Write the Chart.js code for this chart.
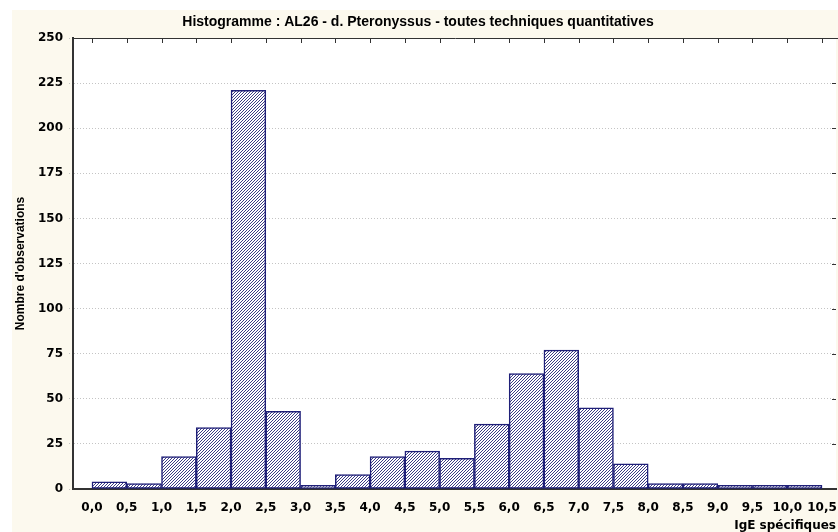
<!DOCTYPE html>
<html>
<head>
<meta charset="utf-8">
<script src="https://cdn.jsdelivr.net/npm/chart.js@4/dist/chart.umd.min.js"></script>
<style>
  html, body { margin: 0; padding: 0; background: #fff; }
  canvas { display: block; }
</style>
</head>
<body>
<canvas id="histo" width="838" height="532"></canvas>
<script>
// classes de IgE (debut de chaque classe, largeur 0,5)
const classes = [0.0, 0.5, 1.0, 1.5, 2.0, 2.5, 3.0, 3.5, 4.0, 4.5, 5.0,
  5.5, 6.0, 6.5, 7.0, 7.5, 8.0, 8.5, 9.0, 9.5, 10.0];
const effectifs = [4, 3, 18, 34, 221, 43, 2, 8, 18, 21, 17,
  36, 64, 77, 45, 14, 3, 3, 2, 2, 2];
const largeurClasse = 0.5;

const xTicks = [0.0, 0.5, 1.0, 1.5, 2.0, 2.5, 3.0, 3.5, 4.0, 4.5, 5.0,
  5.5, 6.0, 6.5, 7.0, 7.5, 8.0, 8.5, 9.0, 9.5, 10.0, 10.5];
const yTicks = [0, 25, 50, 75, 100, 125, 150, 175, 200, 225, 250];

const titre = 'Histogramme : AL26 - d. Pteronyssus - toutes techniques quantitatives';
const titreX = 'IgE spécifiques';
const titreY = "Nombre d'observations";

const FONT_NARROW = "'Liberation Sans', Arial, sans-serif";
const FONT_WIDE = "'DejaVu Sans', Verdana, sans-serif";
const NAVY = '#1f1f78';

// motif hachure "/"
function hachures() {
  const n = 3;
  const c = document.createElement('canvas');
  c.width = n; c.height = n;
  const g = c.getContext('2d');
  const img = g.createImageData(n, n);
  for (let y = 0; y < n; y++) {
    for (let x = 0; x < n; x++) {
      const i = (y * n + x) * 4;
      const dark = (x + y) % n === n - 1;
      img.data[i] = dark ? 0x3c : 255;
      img.data[i + 1] = dark ? 0x3c : 255;
      img.data[i + 2] = dark ? 0x84 : 255;
      img.data[i + 3] = 255;
    }
  }
  g.putImageData(img, 0, 0);
  return document.getElementById('histo').getContext('2d').createPattern(c, 'repeat');
}

const points = classes.map((c, i) => ({ x: c + largeurClasse / 2, y: effectifs[i] }));

const fond = {
  id: 'fond',
  beforeDraw(chart) {
    const { ctx, chartArea: a } = chart;
    ctx.save();
    ctx.fillStyle = '#ffffff';
    ctx.fillRect(0, 0, chart.width, chart.height);
    ctx.fillStyle = '#fcf9ee';
    ctx.fillRect(12, 10, chart.width - 12, chart.height - 10);
    ctx.fillStyle = '#ffffff';
    ctx.fillRect(a.left, a.top, a.right - a.left, a.bottom - a.top);
    ctx.restore();
  },
  afterDraw(chart) {
    const { ctx, chartArea: a } = chart;
    const sx = chart.scales.x, sy = chart.scales.y;
    ctx.save();
    ctx.strokeStyle = '#333';
    ctx.lineWidth = 1;
    ctx.beginPath();
    ctx.moveTo(a.left, a.top + 0.5);
    ctx.lineTo(chart.width, a.top + 0.5);
    xTicks.forEach(v => {
      const px = Math.round(sx.getPixelForValue(v)) + 0.5;
      ctx.moveTo(px, a.top);
      ctx.lineTo(px, a.top + 5);
    });
    yTicks.forEach(v => {
      const py = Math.round(sy.getPixelForValue(v)) + 0.5;
      ctx.moveTo(a.right, py);
      ctx.lineTo(a.right - 4, py);
    });
    ctx.stroke();
    ctx.restore();
  }
};

new Chart(document.getElementById('histo'), {
  type: 'bar',
  data: {
    datasets: [{
      data: points,
      backgroundColor: hachures(),
      borderColor: NAVY,
      borderWidth: 1.5,
      borderSkipped: false,
      barPercentage: 1,
      categoryPercentage: 1
    }]
  },
  options: {
    responsive: false,
    animation: false,
    layout: { padding: { left: 0, right: 2, top: 0, bottom: 0 } },
    plugins: {
      legend: { display: false },
      tooltip: { enabled: false },
      title: {
        display: true,
        text: titre,
        color: '#000',
        font: { family: FONT_NARROW, size: 14, weight: 'bold' },
        padding: { top: 13.6, bottom: 7.6 }
      }
    },
    scales: {
      x: {
        type: 'linear',
        offset: false,
        min: -0.273,
        max: 10.701,
        afterBuildTicks: s => { s.ticks = xTicks.map(v => ({ value: v })); },
        afterFit: s => { s.height = 43; s.paddingLeft = 0; s.paddingRight = 0; },
        grid: { display: false },
        border: { display: true, color: '#333', width: 2 },
        ticks: {
          autoSkip: false,
          maxRotation: 0,
          padding: 4,
          color: '#000',
          font: { family: FONT_WIDE, size: 12, weight: 'bold' },
          callback: v => v.toFixed(1).replace('.', ',')
        },
        title: {
          display: true,
          text: titreX,
          align: 'end',
          color: '#000',
          font: { family: FONT_WIDE, size: 12, weight: 'bold' },
          padding: { top: 0, bottom: -1 }
        }
      },
      y: {
        min: 0,
        max: 250,
        afterBuildTicks: s => { s.ticks = yTicks.map(v => ({ value: v })); },
        afterFit: s => { s.width = 73; s.paddingTop = 0; s.paddingBottom = 0; },
        grid: {
          color: c => (c.tick && (c.tick.value === 0 || c.tick.value === 250)) ? 'rgba(0,0,0,0)' : '#c4c4c4',
          tickColor: '#c4c4c4',
          tickLength: 4,
          tickBorderDash: [1, 2]
        },
        border: { display: true, color: '#333', width: 2, dash: [1, 2] },
        ticks: {
          padding: 6,
          color: '#000',
          font: { family: FONT_WIDE, size: 12, weight: 'bold' }
        },
        title: {
          display: true,
          text: titreY,
          color: '#000',
          font: { family: FONT_NARROW, size: 12, weight: 'bold' },
          padding: { top: 13, bottom: 0 }
        }
      }
    }
  },
  plugins: [fond]
});
</script>
</body>
</html>
